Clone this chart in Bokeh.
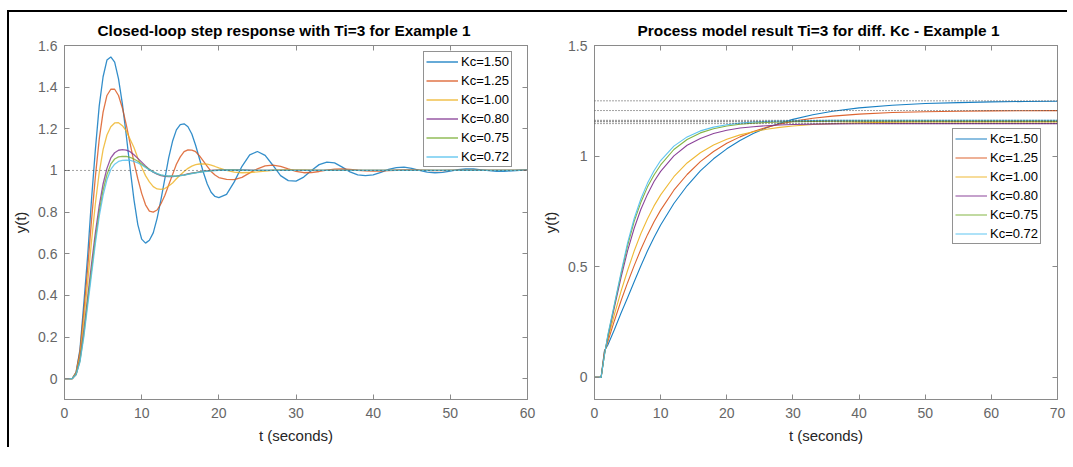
from bokeh.plotting import figure
from bokeh.models import Range1d, FixedTicker, LinearAxis, Span, Legend, LegendItem
from bokeh.layouts import row
from bokeh.embed import file_html
from bokeh.resources import INLINE

# ---------------- data ----------------
labels = ["Kc=1.50", "Kc=1.25", "Kc=1.00", "Kc=0.80", "Kc=0.75", "Kc=0.72"]
colors = ["#0072BD", "#D95319", "#EDB120", "#7E2F8E", "#77AC30", "#4DBEEE"]

# Left chart: closed-loop step response
t_left = [0, 0.5, 1, 1.5, 2, 2.5, 3, 3.5, 4, 4.5, 5, 5.5, 6, 6.5, 7, 7.5, 8, 8.5, 9, 9.5,
          10, 10.5, 11, 11.5, 12, 12.5, 13, 13.5, 14, 14.5, 15, 15.5, 16, 16.5, 17, 17.5, 18, 18.5, 19, 19.5,
          20, 21, 22, 23, 24, 25, 26, 27, 28, 29, 30, 31, 32, 33, 34, 35, 36, 37, 38, 39,
          40, 41, 42, 43, 44, 45, 46, 47, 48, 49, 50, 51, 52, 53, 54, 55, 56, 57, 58, 59, 60]

y_kc150 = [0, 0, 0, 0.03, 0.14, 0.36, 0.59, 0.86, 1.10, 1.31,
           1.45, 1.53, 1.545, 1.52, 1.44, 1.32, 1.17, 1.01, 0.86, 0.74,
           0.67, 0.651, 0.665, 0.70, 0.77, 0.86, 0.96, 1.06, 1.14, 1.195,
           1.22, 1.224, 1.21, 1.175, 1.12, 1.055, 0.99, 0.935, 0.895, 0.875,
           0.869, 0.885, 0.945, 1.02, 1.075, 1.091, 1.072, 1.025, 0.975, 0.951,
           0.949, 0.968, 1.0, 1.028, 1.04, 1.036, 1.016, 0.993, 0.979, 0.975,
           0.979, 0.991, 1.005, 1.014, 1.016, 1.01, 1.0, 0.992, 0.989, 0.991,
           0.997, 1.004, 1.007, 1.007, 1.003, 0.999, 0.996, 0.996, 0.998, 1.001, 1.003]
y_kc125 = [0, 0, 0, 0.03, 0.13, 0.32, 0.53, 0.76, 0.97, 1.15,
           1.28, 1.36, 1.39, 1.39, 1.36, 1.30, 1.22, 1.13, 1.04, 0.96,
           0.89, 0.835, 0.805, 0.80, 0.81, 0.84, 0.88, 0.93, 0.98, 1.03,
           1.065, 1.09, 1.099, 1.098, 1.09, 1.07, 1.045, 1.02, 0.995, 0.978,
           0.966, 0.957, 0.956, 0.967, 0.988, 1.008, 1.022, 1.026, 1.019, 1.007,
           0.996, 0.989, 0.99, 0.995, 1.001, 1.006, 1.007, 1.005, 1.001, 0.998,
           0.997, 0.997, 0.999, 1.001, 1.002, 1.002, 1.001, 1.0, 0.999, 0.999,
           1.0, 1.0, 1.0, 1.0, 1.0, 1.0, 1.0, 1.0, 1.0, 1.0, 1.0]
y_kc100 = [0, 0, 0, 0.025, 0.11, 0.28, 0.46, 0.66, 0.84, 0.99,
           1.10, 1.17, 1.21, 1.228, 1.229, 1.215, 1.19, 1.15, 1.11, 1.06,
           1.015, 0.975, 0.945, 0.922, 0.911, 0.909, 0.913, 0.925, 0.94, 0.96,
           0.978, 0.995, 1.01, 1.021, 1.028, 1.031, 1.032, 1.03, 1.025, 1.019,
           1.012, 1.0, 0.992, 0.989, 0.99, 0.993, 0.997, 1.001, 1.003, 1.004,
           1.003, 1.002, 1.001, 1.0, 1.0, 1.0, 1.0, 1.0, 1.0, 1.0,
           1.0, 1.0, 1.0, 1.0, 1.0, 1.0, 1.0, 1.0, 1.0, 1.0,
           1.0, 1.0, 1.0, 1.0, 1.0, 1.0, 1.0, 1.0, 1.0, 1.0, 1.0]
y_kc080 = [0, 0, 0, 0.02, 0.09, 0.23, 0.39, 0.55, 0.70, 0.83,
           0.935, 1.01, 1.06, 1.085, 1.097, 1.10, 1.098, 1.09, 1.075, 1.058,
           1.04, 1.022, 1.005, 0.992, 0.982, 0.975, 0.972, 0.971, 0.971, 0.973,
           0.976, 0.979, 0.983, 0.987, 0.99, 0.993, 0.996, 0.998, 1.0, 1.001,
           1.002, 1.003, 1.003, 1.002, 1.001, 1.0, 1.0, 1.0, 1.0, 1.0,
           1.0, 1.0, 1.0, 1.0, 1.0, 1.0, 1.0, 1.0, 1.0, 1.0,
           1.0, 1.0, 1.0, 1.0, 1.0, 1.0, 1.0, 1.0, 1.0, 1.0,
           1.0, 1.0, 1.0, 1.0, 1.0, 1.0, 1.0, 1.0, 1.0, 1.0, 1.0]
y_kc075 = [0, 0, 0, 0.02, 0.085, 0.21, 0.37, 0.52, 0.67, 0.80,
           0.905, 0.98, 1.03, 1.055, 1.065, 1.068, 1.067, 1.063, 1.055, 1.044,
           1.031, 1.017, 1.004, 0.993, 0.984, 0.978, 0.974, 0.972, 0.972, 0.973,
           0.975, 0.978, 0.982, 0.986, 0.989, 0.992, 0.995, 0.997, 0.999, 1.0,
           1.001, 1.002, 1.002, 1.001, 1.0, 1.0, 1.0, 1.0, 1.0, 1.0,
           1.0, 1.0, 1.0, 1.0, 1.0, 1.0, 1.0, 1.0, 1.0, 1.0,
           1.0, 1.0, 1.0, 1.0, 1.0, 1.0, 1.0, 1.0, 1.0, 1.0,
           1.0, 1.0, 1.0, 1.0, 1.0, 1.0, 1.0, 1.0, 1.0, 1.0, 1.0]
y_kc072 = [0, 0, 0, 0.02, 0.08, 0.20, 0.35, 0.50, 0.65, 0.78,
           0.88, 0.955, 1.005, 1.03, 1.043, 1.048, 1.049, 1.048, 1.044, 1.036,
           1.026, 1.014, 1.003, 0.993, 0.985, 0.979, 0.975, 0.973, 0.973, 0.973,
           0.975, 0.978, 0.981, 0.985, 0.988, 0.991, 0.994, 0.996, 0.998, 0.999,
           1.0, 1.001, 1.001, 1.001, 1.0, 1.0, 1.0, 1.0, 1.0, 1.0,
           1.0, 1.0, 1.0, 1.0, 1.0, 1.0, 1.0, 1.0, 1.0, 1.0,
           1.0, 1.0, 1.0, 1.0, 1.0, 1.0, 1.0, 1.0, 1.0, 1.0,
           1.0, 1.0, 1.0, 1.0, 1.0, 1.0, 1.0, 1.0, 1.0, 1.0, 1.0]
setpoint = 1.0

# Right chart: process model result
t_right = [0, 0.5, 1, 1.5, 2, 3, 4, 5, 6, 7, 8, 9, 10, 12, 14, 16, 18, 20, 22, 24, 26, 28, 30,
           33, 36, 40, 45, 50, 55, 60, 65, 70]
m_kc150 = [0, 0, 0, 0.12, 0.145, 0.215, 0.29, 0.36, 0.432, 0.503, 0.571, 0.632, 0.689,
           0.786, 0.866, 0.933, 0.988, 1.033, 1.071, 1.102, 1.128, 1.149, 1.166,
           1.187, 1.203, 1.218, 1.23, 1.238, 1.242, 1.245, 1.247, 1.248]
m_kc125 = [0, 0, 0, 0.115, 0.16, 0.255, 0.345, 0.428, 0.505, 0.578, 0.644, 0.703, 0.756,
           0.846, 0.917, 0.975, 1.021, 1.058, 1.087, 1.111, 1.130, 1.145, 1.157,
           1.171, 1.181, 1.19, 1.197, 1.2007, 1.203, 1.2045, 1.205, 1.2055]
m_kc100 = [0, 0, 0, 0.11, 0.17, 0.283, 0.388, 0.483, 0.571, 0.649, 0.716, 0.775, 0.825,
           0.907, 0.969, 1.015, 1.05, 1.076, 1.096, 1.11, 1.1215, 1.13, 1.136,
           1.143, 1.147, 1.1505, 1.153, 1.154, 1.155, 1.155, 1.155, 1.155]
m_kc080 = [0, 0, 0, 0.105, 0.18, 0.315, 0.45, 0.572, 0.674, 0.759, 0.827, 0.885, 0.931,
           1.001, 1.049, 1.08, 1.102, 1.117, 1.127, 1.133, 1.1376, 1.1407, 1.1427,
           1.1445, 1.1458, 1.1465, 1.147, 1.147, 1.147, 1.147, 1.147, 1.147]
m_kc075 = [0, 0, 0, 0.10, 0.185, 0.325, 0.465, 0.595, 0.705, 0.79, 0.86, 0.915, 0.96,
           1.03, 1.075, 1.105, 1.124, 1.136, 1.144, 1.149, 1.152, 1.154, 1.156,
           1.157, 1.158, 1.158, 1.158, 1.158, 1.158, 1.158, 1.158, 1.158]
m_kc072 = [0, 0, 0, 0.10, 0.19, 0.33, 0.472, 0.608, 0.718, 0.806, 0.877, 0.934, 0.98,
           1.045, 1.087, 1.114, 1.131, 1.142, 1.149, 1.154, 1.157, 1.159, 1.160,
           1.161, 1.162, 1.162, 1.162, 1.162, 1.162, 1.162, 1.162, 1.162]
final_values = [1.25, 1.206, 1.155, 1.147, 1.158, 1.162]

left_xticks = [0, 10, 20, 30, 40, 50, 60]
left_yticks = [0, 0.2, 0.4, 0.6, 0.8, 1.0, 1.2, 1.4, 1.6]
left_ytick_labels = ["0", "0.2", "0.4", "0.6", "0.8", "1", "1.2", "1.4", "1.6"]
right_xticks = [0, 10, 20, 30, 40, 50, 60, 70]
right_yticks = [0, 0.5, 1.0, 1.5]
right_ytick_labels = ["0", "0.5", "1", "1.5"]

left_title = "Closed-loop step response with Ti=3 for Example 1"
right_title = "Process model result Ti=3 for diff. Kc - Example 1"
xlabel = "t (seconds)"
ylabel = "y(t)"

FONT = "Liberation Sans"
AX = "#8a8a8a"


def make_fig(title, xr, yr, xticks, yticks, ylabels, mb_left, title_offset):
    p = figure(frame_width=463, frame_height=354, output_backend="svg", toolbar_location=None,
               x_range=Range1d(*xr), y_range=Range1d(*yr),
               min_border_left=mb_left, min_border_right=10, min_border_top=33, min_border_bottom=48,
               title=title)
    bottom = p.xaxis[0]
    left = p.yaxis[0]
    p.title.text_font = FONT
    p.title.text_font_size = "15.4px"
    p.title.text_font_style = "bold"
    p.title.text_color = "#000000"
    p.title.align = "left"
    p.title.offset = title_offset
    p.title.standoff = 14
    p.xgrid.visible = False
    p.ygrid.visible = False
    p.outline_line_color = AX
    p.background_fill_color = "white"
    p.border_fill_color = "white"
    bottom.ticker = FixedTicker(ticks=xticks)
    left.ticker = FixedTicker(ticks=yticks)
    left.major_label_overrides = {v: s for v, s in zip(yticks, ylabels)}
    bottom.axis_label = xlabel
    left.axis_label = ylabel
    top = LinearAxis(ticker=FixedTicker(ticks=xticks),
                     major_label_overrides={v: "" for v in xticks})
    right = LinearAxis(ticker=FixedTicker(ticks=yticks),
                       major_label_overrides={v: "" for v in yticks})
    p.add_layout(top, "above")
    p.add_layout(right, "right")
    for ax in [bottom, left, top, right]:
        ax.axis_line_color = AX
        ax.major_tick_line_color = AX
        ax.major_tick_in = 5
        ax.major_tick_out = 0
        ax.minor_tick_line_color = None
        ax.major_label_text_font = FONT
        ax.major_label_text_color = "#666666"
        ax.major_label_text_font_size = "14px"
        ax.axis_label_text_font = FONT
        ax.axis_label_text_font_style = "normal"
        ax.axis_label_text_color = "#262626"
        ax.axis_label_text_font_size = "15px"
    top.major_label_standoff = 0
    right.major_label_standoff = 0
    bottom.major_label_standoff = 8
    bottom.axis_label_standoff = 6
    left.major_label_standoff = 7
    left.axis_label_standoff = 6
    return p


def style_legend(leg):
    leg.label_text_font = FONT
    leg.label_text_font_size = "13px"
    leg.label_text_color = "#000000"
    leg.border_line_color = "#262626"
    leg.border_line_width = 1
    leg.background_fill_color = "white"
    leg.background_fill_alpha = 1
    leg.glyph_width = 32
    leg.glyph_height = 15
    leg.label_height = 15
    leg.spacing = 4
    leg.padding = 2
    leg.margin = 0
    leg.label_standoff = 3


# ---------------- left figure ----------------
p1 = make_fig(left_title, (0, 60), (-0.1, 1.6), left_xticks, left_yticks, left_ytick_labels, 54, 33)
p1.add_layout(Span(location=setpoint, dimension="width", line_color="#444444",
                   line_dash="1 3", line_width=1))
left_series = [y_kc150, y_kc125, y_kc100, y_kc080, y_kc075, y_kc072]
items = []
for ys, c, lab in zip(left_series, colors, labels):
    r = p1.line(t_left, ys, line_color=c, line_width=1.3, line_alpha=0.8)
    items.append(LegendItem(label=lab, renderers=[r]))
leg1 = Legend(items=items, location=(359, 232))
style_legend(leg1)
p1.add_layout(leg1)

# ---------------- right figure ----------------
p2 = make_fig(right_title, (0, 70), (-0.1, 1.5), right_xticks, right_yticks, right_ytick_labels, 57, 43)
for fv in final_values:
    p2.add_layout(Span(location=fv, dimension="width", line_color="#444444",
                       line_dash="1 2", line_width=1))
right_series = [m_kc150, m_kc125, m_kc100, m_kc080, m_kc075, m_kc072]
items2 = []
for ys, c, lab in zip(right_series, colors, labels):
    r = p2.line(t_right, ys, line_color=c, line_width=1.1, line_alpha=0.9)
    items2.append(LegendItem(label=lab, renderers=[r]))
leg2 = Legend(items=items2, location=(358, 155))
style_legend(leg2)
p2.add_layout(leg2)

layout = row(p1, p2, margin=(10, 0, 0, 7),
             styles={"border-left": "2px solid black", "border-top": "2px solid black"})

open("out.html", "w").write(file_html(layout, INLINE))
